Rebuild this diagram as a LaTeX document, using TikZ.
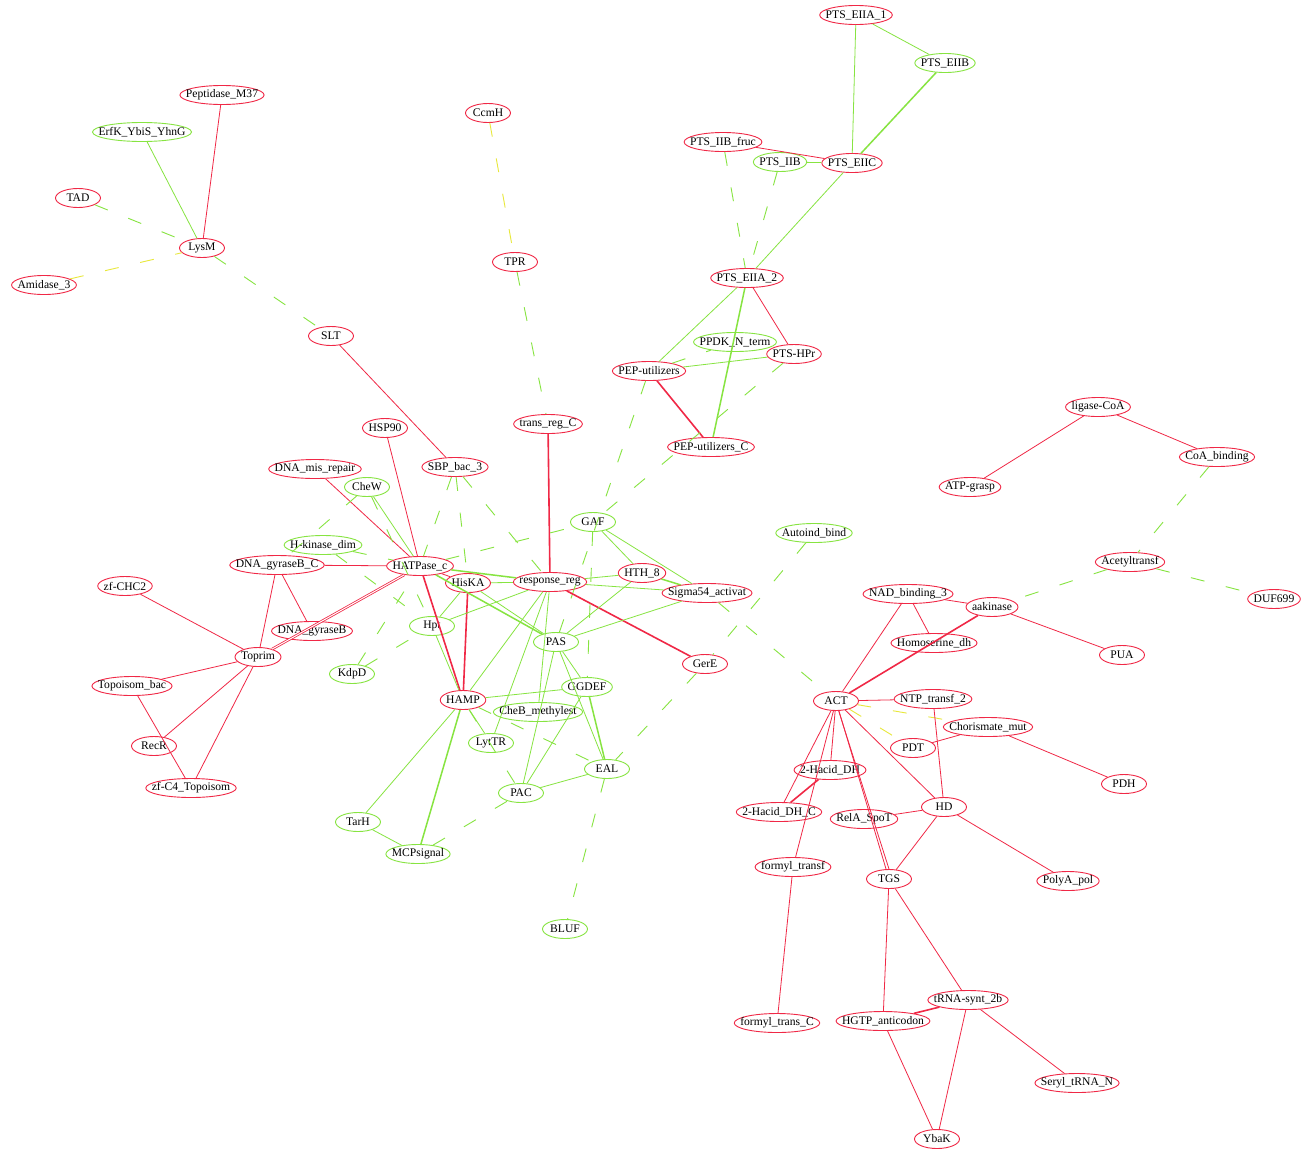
\documentclass[tikz,border=0pt]{standalone}
\usepackage{fontspec}
\setmainfont{Liberation Serif}
\usetikzlibrary{shapes.geometric}
\definecolor{pfred}{RGB}{240,40,70}
\definecolor{pfgreen}{RGB}{135,228,65}
\definecolor{pfyellow}{RGB}{232,232,60}
\newlength\pfw
\newcommand\pffont{\fontsize{11.6}{13}\selectfont}
\newcommand\pflab[1]{\settowidth\pfw{#1}\setlength\pfw{0.7071\pfw}\addtolength\pfw{8.5pt}\makebox[\pfw]{#1}}
\newcommand\pfnode[5]{\node[#4] (#1) at (#2,#3) {\pflab{#5}};}
\begin{document}
\begin{tikzpicture}[x=1pt,y=-1pt,
  pfn/.style={ellipse, line width=0.9pt, inner sep=0pt, minimum height=19pt, minimum width=45pt, font=\pffont},
  rn/.style={pfn, draw=pfred},
  gn/.style={pfn, draw=pfgreen},
  re/.style={draw=pfred, line width=0.8pt},
  ret/.style={draw=pfred, line width=1.6pt},
  ge/.style={draw=pfgreen, line width=0.8pt},
  get/.style={draw=pfgreen, line width=1.5pt},
  gd/.style={draw=pfgreen, line width=0.9pt, dash pattern=on 14pt off 22pt},
  yd/.style={draw=pfyellow, line width=0.9pt, dash pattern=on 14pt off 22pt}]
\fill[white] (0,0) rectangle (1305,1149);
\path[use as bounding box] (0,0) rectangle (1305,1149);
% nodes
\pfnode{e1}{856}{15}{rn}{PTS\_EIIA\_1}
\pfnode{eb}{945}{63}{gn}{PTS\_EIIB}
\pfnode{fruc}{723}{142}{rn}{PTS\_IIB\_fruc}
\pfnode{iib}{780}{162}{gn}{PTS\_IIB}
\pfnode{eiic}{852}{163}{rn}{PTS\_EIIC}
\pfnode{e2}{747}{278}{rn}{PTS\_EIIA\_2}
\pfnode{ppdk}{735}{342}{gn}{PPDK\_N\_term}
\pfnode{hpr}{794}{354}{rn}{PTS-HPr}
\pfnode{pep}{649}{371}{rn}{PEP-utilizers}
\pfnode{pepc}{711}{447}{rn}{PEP-utilizers\_C}
\pfnode{m37}{222}{95}{rn}{Peptidase\_M37}
\pfnode{erfk}{142}{132}{gn}{ErfK\_YbiS\_YhnG}
\pfnode{tad}{78}{198}{rn}{TAD}
\pfnode{lysm}{202}{248}{rn}{LysM}
\pfnode{ami}{44}{285}{rn}{Amidase\_3}
\pfnode{slt}{331}{336}{rn}{SLT}
\pfnode{ccmh}{488}{113}{rn}{CcmH}
\pfnode{tpr}{515}{262}{rn}{TPR}
\pfnode{trc}{548}{424}{rn}{trans\_reg\_C}
\pfnode{hsp}{385}{428}{rn}{HSP90}
\pfnode{dmr}{315}{469}{rn}{DNA\_mis\_repair}
\pfnode{sbp}{455}{467}{rn}{SBP\_bac\_3}
\pfnode{chew}{367}{487}{gn}{CheW}
\pfnode{gaf}{593}{522}{gn}{GAF}
\pfnode{auto}{814}{533}{gn}{Autoind\_bind}
\pfnode{hkd}{323}{545}{gn}{H-kinase\_dim}
\pfnode{dgbc}{277}{565}{rn}{DNA\_gyraseB\_C}
\pfnode{hat}{420}{566}{rn}{HATPase\_c}
\pfnode{hiska}{468}{583}{rn}{HisKA}
\pfnode{rr}{550}{582}{rn}{response\_reg}
\pfnode{hth}{642}{573}{rn}{HTH\_8}
\pfnode{sig}{707}{593}{rn}{Sigma54\_activat}
\pfnode{zfc}{125}{586}{rn}{zf-CHC2}
\pfnode{hpt}{432}{626}{gn}{Hpt}
\pfnode{dgb}{312}{631}{rn}{DNA\_gyraseB}
\pfnode{pas}{556}{642}{gn}{PAS}
\pfnode{top}{258}{657}{rn}{Toprim}
\pfnode{gere}{705}{664}{rn}{GerE}
\pfnode{kdpd}{352}{674}{gn}{KdpD}
\pfnode{tbac}{132}{686}{rn}{Topoisom\_bac}
\pfnode{ggdef}{587}{687}{gn}{GGDEF}
\pfnode{hamp}{463}{700}{rn}{HAMP}
\pfnode{cheb}{538}{712}{gn}{CheB\_methylest}
\pfnode{lyt}{491}{743}{gn}{LytTR}
\pfnode{recr}{154}{746}{rn}{RecR}
\pfnode{eal}{607}{769}{gn}{EAL}
\pfnode{pac}{521}{793}{gn}{PAC}
\pfnode{zf4}{191}{788}{rn}{zf-C4\_Topoisom}
\pfnode{tarh}{358}{822}{gn}{TarH}
\pfnode{mcp}{418}{854}{gn}{MCPsignal}
\pfnode{bluf}{565}{929}{gn}{BLUF}
\pfnode{lig}{1098}{407}{rn}{ligase-CoA}
\pfnode{coa}{1217}{457}{rn}{CoA\_binding}
\pfnode{atp}{970}{487}{rn}{ATP-grasp}
\pfnode{acet}{1130}{562}{rn}{Acetyltransf}
\pfnode{duf}{1274}{599}{rn}{DUF699}
\pfnode{nad}{908}{594}{rn}{NAD\_binding\_3}
\pfnode{aak}{992}{607}{rn}{aakinase}
\pfnode{hom}{934}{643}{rn}{Homoserine\_dh}
\pfnode{pua}{1122}{655}{rn}{PUA}
\pfnode{act}{836}{701}{rn}{ACT}
\pfnode{ntp}{933}{699}{rn}{NTP\_transf\_2}
\pfnode{chor}{988}{727}{rn}{Chorismate\_mut}
\pfnode{pdt}{913}{748}{rn}{PDT}
\pfnode{pdh}{1124}{784}{rn}{PDH}
\pfnode{had}{830}{770}{rn}{2-Hacid\_DH}
\pfnode{hadc}{779}{812}{rn}{2-Hacid\_DH\_C}
\pfnode{rela}{864}{819}{rn}{RelA\_SpoT}
\pfnode{hd}{944}{807}{rn}{HD}
\pfnode{fmt}{793}{867}{rn}{formyl\_transf}
\pfnode{tgs}{889}{879}{rn}{TGS}
\pfnode{polya}{1068}{881}{rn}{PolyA\_pol}
\pfnode{trna}{968}{1000}{rn}{tRNA-synt\_2b}
\pfnode{hgtp}{883}{1021}{rn}{HGTP\_anticodon}
\pfnode{fmtc}{777}{1023}{rn}{formyl\_trans\_C}
\pfnode{ser}{1077}{1083}{rn}{Seryl\_tRNA\_N}
\pfnode{ybak}{937}{1139}{rn}{YbaK}
% PTS cluster
\draw[ge] (e1) -- (eb);
\draw[ge] (e1) -- (eiic);
\draw[get] (eb) -- (eiic);
\draw[re] (fruc) -- (eiic);
\draw[ge] (iib) -- (eiic);
\draw[gd] (fruc) -- (e2);
\draw[gd] (iib) -- (e2);
\draw[ge] (eiic) -- (e2);
\draw[ge] (e2) -- (pep);
\draw[get] (e2) -- (pepc);
\draw[re] (e2) -- (hpr);
\draw[ge] (pep) -- (hpr);
\draw[gd] (pep) -- (ppdk);
\draw[ret] (pep) -- (pepc);
\draw[gd] (hpr) -- (gaf);
\draw[gd] (pep) -- (pas);
% top left
\draw[re] (m37) -- (lysm);
\draw[ge] (erfk) -- (lysm);
\draw[gd] (tad) -- (lysm);
\draw[yd] (ami) -- (lysm);
\draw[gd] (lysm) -- (slt);
\draw[re] (slt) -- (sbp);
\draw[yd] (ccmh) -- (tpr);
\draw[gd] (tpr) -- (trc);
% left cluster
\draw[re] (hsp) -- (hat);
\draw[re] (dmr) -- (hat);
\draw[re] (dgbc) -- (hat);
\draw[re] (dgbc) -- (top);
\draw[re] (dgbc) -- (dgb);
\draw[re, double=white, double distance=1pt] (hat) -- (top);
\draw[re] (zfc) -- (top);
\draw[re] (tbac) -- (top);
\draw[re] (top) -- (recr);
\draw[re] (top) -- (zf4);
\draw[re] (tbac) -- (zf4);
% center
\draw[ret] (trc) -- (rr);
\draw[re] (hat) -- (hiska);
\draw[ret] (hat) -- (hamp);
\draw[ret] (hiska) -- (hamp);
\draw[ret] (rr) -- (gere);
\draw[get] (hat) -- (rr);
\draw[get] (hat) -- (pas);
\draw[ge] (hiska) -- (pas);
\draw[ge] (hiska) -- (rr);
\draw[ge] (hiska) -- (hpt);
\draw[ge] (hpt) -- (rr);
\draw[ge] (hpt) -- (hamp);
\draw[ge] (chew) -- (hat);
\draw[ge] (rr) -- (hamp);
\draw[ge] (rr) -- (lyt);
\draw[ge] (rr) -- (hth);
\draw[ge] (rr) -- (sig);
\draw[ge] (gaf) -- (hth);
\draw[ge] (gaf) -- (sig);
\draw[get] (hth) -- (sig);
\draw[ge] (pas) -- (hth);
\draw[ge] (pas) -- (sig);
\draw[ge] (pas) -- (ggdef);
\draw[ge] (pas) -- (eal);
\draw[ge] (pas) -- (pac);
\draw[ge] (pac) -- (ggdef);
\draw[ge] (pac) -- (eal);
\draw[get] (ggdef) -- (eal);
\draw[ge] (hamp) -- (ggdef);
\draw[ge] (hamp) -- (tarh);
\draw[get] (hamp) -- (mcp);
\draw[ge] (tarh) -- (mcp);
\draw[ge] (hamp) -- (lyt);
\draw[ge] (rr) -- (cheb);
% center dashed
\draw[gd] (hat) -- (gaf);
\draw[gd] (sbp) -- (hiska);
\draw[gd] (sbp) -- (rr);
\draw[gd] (sbp) -- (hat);
\draw[gd] (kdpd) -- (hpt);
\draw[gd] (kdpd) -- (hat);
\draw[gd] (hkd) -- (hat);
\draw[gd] (hkd) -- (hpt);
\draw[gd] (chew) -- (hpt);
\draw[gd] (chew) -- (dgbc);
\draw[gd] (gaf) -- (ggdef);
\draw[gd] (sig) -- (act);
\draw[gd] (auto) -- (gere);
\draw[gd] (gere) -- (eal);
\draw[gd] (eal) -- (bluf);
\draw[gd] (mcp) -- (pac);
\draw[gd] (hamp) -- (eal);
\draw[gd] (hamp) -- (pac);
% right
\draw[re] (lig) -- (atp);
\draw[re] (lig) -- (coa);
\draw[gd] (coa) -- (acet);
\draw[gd] (acet) -- (aak);
\draw[gd] (acet) -- (duf);
\draw[re] (nad) -- (aak);
\draw[re] (nad) -- (hom);
\draw[re] (nad) -- (act);
\draw[ret] (aak) -- (act);
\draw[re] (aak) -- (pua);
\draw[re] (act) -- (ntp);
\draw[yd] (act) -- (chor);
\draw[yd] (act) -- (pdt);
\draw[re] (ntp) -- (hd);
\draw[re] (pdt) -- (chor);
\draw[re] (chor) -- (pdh);
\draw[re] (act) -- (hd);
\draw[re] (act) -- (had);
\draw[re] (act) -- (hadc);
\draw[re] (act) -- (fmt);
\draw[re] (act) -- (tgs);
\draw[re] (act.-75) -- (tgs.north);
\draw[ret] (had) -- (hadc);
\draw[re] (rela) -- (hd);
\draw[re] (hd) -- (tgs);
\draw[re] (hd) -- (polya);
\draw[re] (fmt) -- (fmtc);
\draw[re] (tgs) -- (hgtp);
\draw[re] (tgs) -- (trna);
\draw[ret] (trna) -- (hgtp);
\draw[re] (trna) -- (ybak);
\draw[re] (hgtp) -- (ybak);
\draw[re] (trna) -- (ser);
\end{tikzpicture}
\end{document}
